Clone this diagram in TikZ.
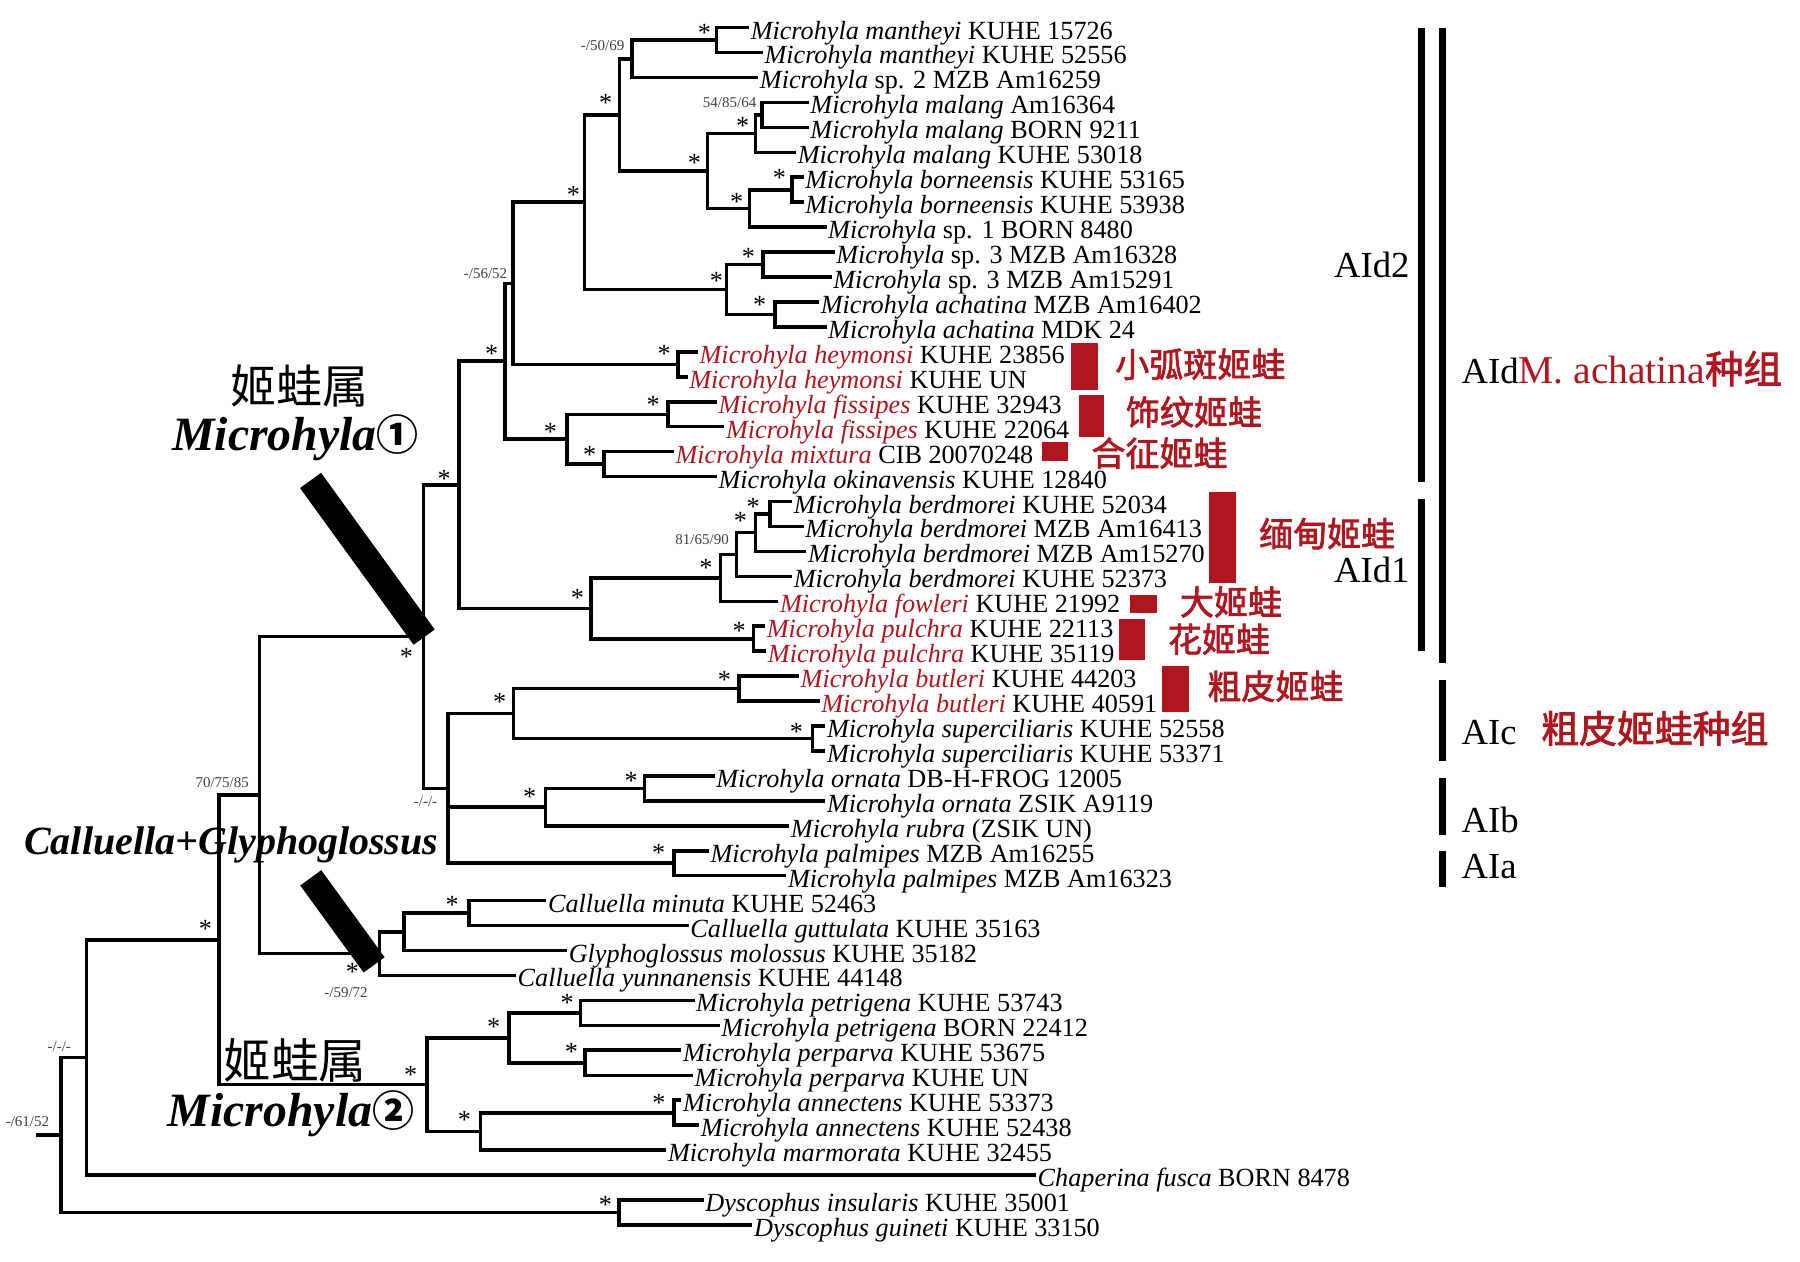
\documentclass[tikz,border=0pt]{standalone}
\usepackage{fontspec}
\setmainfont{Liberation Serif}
\newfontfamily\cjk{Noto Sans CJK SC}
\newfontfamily\cjkbold{Noto Sans CJK SC}[FakeBold=2]
\definecolor{frogred}{RGB}{176,22,30}
\newcommand{\mh}[1]{\textit{Microhyla #1}}
\newcommand{\rmh}[1]{\textcolor{frogred}{\textit{Microhyla #1}}}

\begin{document}
\begin{tikzpicture}[x = 1.148pt, y = -1.148pt,
        branch/.style = {line width = 3.6pt},
        taxon/.style = {anchor = west, inner xsep = 1.5pt, inner ysep = 0pt, text height = 23pt, text depth = 0pt, font = \fontsize{26.2pt}{28pt}\selectfont},
        ast/.style = {inner sep = 0pt, text height = 18pt, text depth = 0pt, yshift = -3pt, font = \fontsize{26.2pt}{28pt}\selectfont},
        supp/.style = {anchor = east, inner sep = 0pt, text = black!75, font = \fontsize{15pt}{16pt}\selectfont},
        cladebar/.style = {line width = 7.2pt},
        cnlab/.style = {inner sep = 0pt, text height = 28pt, text depth = 2.5pt, text = frogred, font = \fontsize{34pt}{36pt}\cjkbold},
        grouplab/.style = {anchor = west, inner sep = 0pt, text height = 25pt, text depth = 0pt, font = \fontsize{36.7pt}{40pt}\selectfont}]
        \useasboundingbox (0,0) rectangle (1568,1099);

        \coordinate (nMan) at (624,34.9);
        \coordinate (nA) at (550.6,51.2);
        \coordinate (nMal1) at (664,100);
        \coordinate (nMal) at (658,116.3);
        \coordinate (nBor1) at (690,165.3);
        \coordinate (nBor) at (653,181.5);
        \coordinate (nD) at (616.4,148.9);
        \coordinate (nB) at (539.5,100);
        \coordinate (nSp3) at (664.8,230.4);
        \coordinate (nAch) at (675,273.9);
        \coordinate (nH) at (632.8,252.2);
        \coordinate (nC) at (509,176.1);
        \coordinate (nHey) at (590.6,317.4);
        \coordinate (nK) at (447,246.8);
        \coordinate (nFis) at (581.7,360.9);
        \coordinate (nMix) at (526,404.3);
        \coordinate (nM) at (494,382.6);
        \coordinate (nK0) at (440,314.7);
        \coordinate (nW) at (670.6,447.8);
        \coordinate (nV) at (658,464);
        \coordinate (nU) at (641.7,483);
        \coordinate (nT) at (627.5,503.4);
        \coordinate (nPul) at (656.4,556.4);
        \coordinate (nR) at (515,529.9);
        \coordinate (nN) at (400,422.3);
        \coordinate (nBut) at (643.8,599.9);
        \coordinate (nSup) at (707.8,643.3);
        \coordinate (nZ) at (447.3,621.6);
        \coordinate (nOrn) at (561.3,686.8);
        \coordinate (nAB) at (475.3,703.1);
        \coordinate (nPal) at (587.3,752);
        \coordinate (nX) at (390,686.8);
        \coordinate (nP) at (369,554.5);
        \coordinate (nCA) at (408.8,795.5);
        \coordinate (nCB) at (352,811.7);
        \coordinate (nCC) at (330.6,830.7);
        \coordinate (nY) at (226,692.6);
        \coordinate (nPet) at (505.6,882.3);
        \coordinate (nPer) at (509.5,925.8);
        \coordinate (nM2a) at (443.3,904);
        \coordinate (nAnn) at (587.2,969.3);
        \coordinate (nM2b) at (418.5,985.6);
        \coordinate (nM2) at (371.8,944.8);
        \coordinate (nYY) at (191,818.7);
        \coordinate (nAA) at (75.5,921.1);
        \coordinate (nDys) at (539,1056.2);
        \coordinate (nRoot) at (53,988.7);
        \coordinate (stub) at (31,988.7);

        \node[taxon] (t1) at (652.5,24.0) {\mh{mantheyi} KUHE 15726};
        \node[taxon] (t2) at (664.5,45.7) {\mh{mantheyi} KUHE 52556};
        \node[taxon] (t3) at (660.5,67.5) {\textit{Microhyla} sp. 2 MZB Am16259};
        \node[taxon] (t4) at (704.5,89.2) {\mh{malang} Am16364};
        \node[taxon] (t5) at (704.5,110.9) {\mh{malang} BORN 9211};
        \node[taxon] (t6) at (693.5,132.7) {\mh{malang} KUHE 53018};
        \node[taxon] (t7) at (700,154.4) {\mh{borneensis} KUHE 53165};
        \node[taxon] (t8) at (700,176.1) {\mh{borneensis} KUHE 53938};
        \node[taxon] (t9) at (720,197.8) {\textit{Microhyla} sp. 1 BORN 8480};
        \node[taxon] (t10) at (727,219.6) {\textit{Microhyla} sp. 3 MZB Am16328};
        \node[taxon] (t11) at (724.5,241.3) {\textit{Microhyla} sp. 3 MZB Am15291};
        \node[taxon] (t12) at (713.5,263.0) {\mh{achatina} MZB Am16402};
        \node[taxon] (t13) at (720,284.8) {\mh{achatina} MDK 24};
        \node[taxon] (t14) at (608,306.5) {\rmh{heymonsi} KUHE 23856};
        \node[taxon] (t15) at (599,328.2) {\rmh{heymonsi} KUHE UN};
        \node[taxon] (t16) at (624.5,350.0) {\rmh{fissipes} KUHE 32943};
        \node[taxon] (t17) at (631,371.7) {\rmh{fissipes} KUHE 22064};
        \node[taxon] (t18) at (587,393.4) {\rmh{mixtura} CIB 20070248};
        \node[taxon] (t19) at (624.5,415.1) {\mh{okinavensis} KUHE 12840};
        \node[taxon] (t20) at (690,436.9) {\mh{berdmorei} KUHE 52034};
        \node[taxon] (t21) at (700,458.6) {\mh{berdmorei} MZB Am16413};
        \node[taxon] (t22) at (702.5,480.3) {\mh{berdmorei} MZB Am15270};
        \node[taxon] (t23) at (690,502.1) {\mh{berdmorei} KUHE 52373};
        \node[taxon] (t24) at (678,523.8) {\rmh{fowleri} KUHE 21992};
        \node[taxon] (t25) at (666.5,545.5) {\rmh{pulchra} KUHE 22113};
        \node[taxon] (t26) at (667.5,567.3) {\rmh{pulchra} KUHE 35119};
        \node[taxon] (t27) at (696,589.0) {\rmh{butleri} KUHE 44203};
        \node[taxon] (t28) at (714,610.7) {\rmh{butleri} KUHE 40591};
        \node[taxon] (t29) at (719,632.4) {\mh{superciliaris} KUHE 52558};
        \node[taxon] (t30) at (719,654.2) {\mh{superciliaris} KUHE 53371};
        \node[taxon] (t31) at (622.5,675.9) {\mh{ornata} DB-H-FROG 12005};
        \node[taxon] (t32) at (719,697.6) {\mh{ornata} ZSIK A9119};
        \node[taxon] (t33) at (687.5,719.4) {\mh{rubra} (ZSIK UN)};
        \node[taxon] (t34) at (617.5,741.1) {\mh{palmipes} MZB Am16255};
        \node[taxon] (t35) at (685,762.8) {\mh{palmipes} MZB Am16323};
        \node[taxon] (t36) at (476,784.6) {\textit{Calluella minuta} KUHE 52463};
        \node[taxon] (t37) at (600,806.3) {\textit{Calluella guttulata} KUHE 35163};
        \node[taxon] (t38) at (494,828.0) {\textit{Glyphoglossus molossus} KUHE 35182};
        \node[taxon] (t39) at (449.5,849.7) {\textit{Calluella yunnanensis} KUHE 44148};
        \node[taxon] (t40) at (605,871.5) {\mh{petrigena} KUHE 53743};
        \node[taxon] (t41) at (627,893.2) {\mh{petrigena} BORN 22412};
        \node[taxon] (t42) at (593.5,914.9) {\mh{perparva} KUHE 53675};
        \node[taxon] (t43) at (603.5,936.7) {\mh{perparva} KUHE UN};
        \node[taxon] (t44) at (593.5,958.4) {\mh{annectens} KUHE 53373};
        \node[taxon] (t45) at (609,980.1) {\mh{annectens} KUHE 52438};
        \node[taxon] (t46) at (580.5,1001.9) {\mh{marmorata} KUHE 32455};
        \node[taxon] (t47) at (902.5,1023.6) {\textit{Chaperina fusca} BORN 8478};
        \node[taxon] (t48) at (613,1045.3) {\textit{Dyscophus insularis} KUHE 35001};
        \node[taxon] (t49) at (655.5,1067.0) {\textit{Dyscophus guineti} KUHE 33150};

        \foreach \p/\c in {nMan/t1, nMan/t2, nA/nMan, nA/t3, nMal1/t4, nMal1/t5, nMal/nMal1, nMal/t6,
                nBor1/t7, nBor1/t8, nBor/nBor1, nBor/t9, nD/nMal, nD/nBor, nB/nA, nB/nD,
                nSp3/t10, nSp3/t11, nAch/t12, nAch/t13, nH/nSp3, nH/nAch, nC/nB, nC/nH,
                nHey/t14, nHey/t15, nK/nC, nK/nHey, nFis/t16, nFis/t17, nMix/t18, nMix/t19,
                nM/nFis, nM/nMix, nK0/nK, nK0/nM, nW/t20, nW/t21, nV/nW, nV/t22, nU/nV, nU/t23,
                nT/nU, nT/t24, nPul/t25, nPul/t26, nR/nT, nR/nPul, nN/nK0, nN/nR,
                nBut/t27, nBut/t28, nSup/t29, nSup/t30, nZ/nBut, nZ/nSup, nOrn/t31, nOrn/t32,
                nAB/nOrn, nAB/t33, nPal/t34, nPal/t35, nX/nZ, nX/nAB, nX/nPal, nP/nN, nP/nX,
                nCA/t36, nCA/t37, nCB/nCA, nCB/t38, nCC/nCB, nCC/t39, nY/nP, nY/nCC,
                nPet/t40, nPet/t41, nPer/t42, nPer/t43, nM2a/nPet, nM2a/nPer, nAnn/t44, nAnn/t45,
                nM2b/nAnn, nM2b/t46, nM2/nM2a, nM2/nM2b, nYY/nY, nYY/nM2, nAA/nYY, nAA/t47,
                nDys/t48, nDys/t49, nRoot/nAA, nRoot/nDys, nRoot/stub}
            \draw[branch] (\p) |- (\c);

        \foreach \x/\y [count = \i] in {613.7/26, 527.5/87, 605/139, 647/107, 641.7/172.7, 679/152, 624/242,
                652/220.6, 661.7/262.7, 499.5/167, 578.6/305, 428.4/305, 387/414, 479.5/373, 569/350,
                513.7/393.5, 503/518, 644/547, 615/492, 645/451, 656/438.5, 354/569, 435.3/608.3,
                631/589, 693.8/634.4, 461.3/691, 549.8/677.1, 573.8/740.4, 393.8/785.4, 307/844,
                179/806, 357.8/933.5, 494/871, 430/891.5, 497.8/913, 404.5/972.7, 574/958, 527.3/1046.7}
            \node[ast] (st\i) at (\x,\y) {*};

        \node[supp] (s1) at (544,40) {-/50/69};
        \node[supp] (s2) at (659,89) {54/85/64};
        \node[supp] (s3) at (442,238) {-/56/52};
        \node[supp] (s4) at (635,470) {81/65/90};
        \node[supp] (s5) at (381,698) {-/-/-};
        \node[supp] (s6) at (217,681.6) {70/75/85};
        \node[supp] (s7) at (320.5,865) {-/59/72};
        \node[supp] (s8) at (62,911.7) {-/-/-};
        \node[supp] (s9) at (43,977) {-/61/52};

        \draw[line width = 26pt] (270.5,418.5) -- (369.5,555);
        \draw[line width = 26pt] (270.7,764.7) -- (325.9,840.5);

        \node[inner sep = 0pt, font = \fontsize{46pt}{48pt}\cjk] (genus1) at (261,336) {姬蛙属};
        \node[anchor = base west, inner sep = 0pt, font = \fontsize{47.8pt}{50pt}\selectfont\bfseries\itshape] (micro1) at (150,392) {Microhyla{\cjk\fontsize{42pt}{44pt}\selectfont ①}};
        \node[anchor = base west, inner sep = 0pt, font = \fontsize{40pt}{42pt}\selectfont\bfseries\itshape] (callu) at (21,744.7) {Calluella+Glyphoglossus};
        \node[inner sep = 0pt, font = \fontsize{47.6pt}{50pt}\cjk] (genus2) at (257,924) {姬蛙属};
        \node[anchor = base west, inner sep = 0pt, font = \fontsize{47.8pt}{50pt}\selectfont\bfseries\itshape] (micro2) at (146,981.4) {Microhyla{\cjk\fontsize{42pt}{44pt}\selectfont ②}};

        \fill[frogred] (932.8,299) rectangle (956.3,339.7);
        \fill[frogred] (939.5,344) rectangle (961.7,380.4);
        \fill[frogred] (907.5,384.7) rectangle (930.6,402);
        \fill[frogred] (1053.4,429) rectangle (1076.8,507.5);
        \fill[frogred] (984.7,518) rectangle (1008.2,534.2);
        \fill[frogred] (974.5,539) rectangle (997.8,575);
        \fill[frogred] (1012.6,580) rectangle (1036,620);

        \node[cnlab] (cn1) at (1045.6,317.5) {小弧斑姬蛙};
        \node[cnlab] (cn2) at (1040,359) {饰纹姬蛙};
        \node[cnlab] (cn3) at (1010,395) {合征姬蛙};
        \node[cnlab] (cn4) at (1156,465) {缅甸姬蛙};
        \node[cnlab] (cn5) at (1072.3,524.5) {大姬蛙};
        \node[cnlab] (cn6) at (1061.8,557) {花姬蛙};
        \node[cnlab] (cn7) at (1111,598) {粗皮姬蛙};
        \node[cnlab, font = \fontsize{37.9pt}{40pt}\cjkbold] (cn8) at (1441.5,636) {粗皮姬蛙种组};

        \draw[cladebar] (1238,24) -- (1238,420);
        \draw[cladebar] (1238,435) -- (1238,567.5);
        \draw[cladebar] (1256.3,24) -- (1256.3,577.5);
        \draw[cladebar] (1256.3,592.5) -- (1256.3,662.5);
        \draw[cladebar] (1256.3,677.5) -- (1256.3,727.5);
        \draw[cladebar] (1256.3,741) -- (1256.3,772.5);

        \node[grouplab] (g1) at (1162,231) {AId2};
        \node[grouplab] (g2) at (1162,496.5) {AId1};
        \node[grouplab] (g3) at (1273,323) {AId\textcolor{frogred}{\fontsize{39.5pt}{40pt}\selectfont M. achatina{\cjkbold\fontsize{38.5pt}{40pt}\selectfont 种组}}};
        \node[grouplab] (g4) at (1273,638) {AIc};
        \node[grouplab] (g5) at (1273,714) {AIb};
        \node[grouplab] (g6) at (1273,754) {AIa};
\end{tikzpicture}
\end{document}
